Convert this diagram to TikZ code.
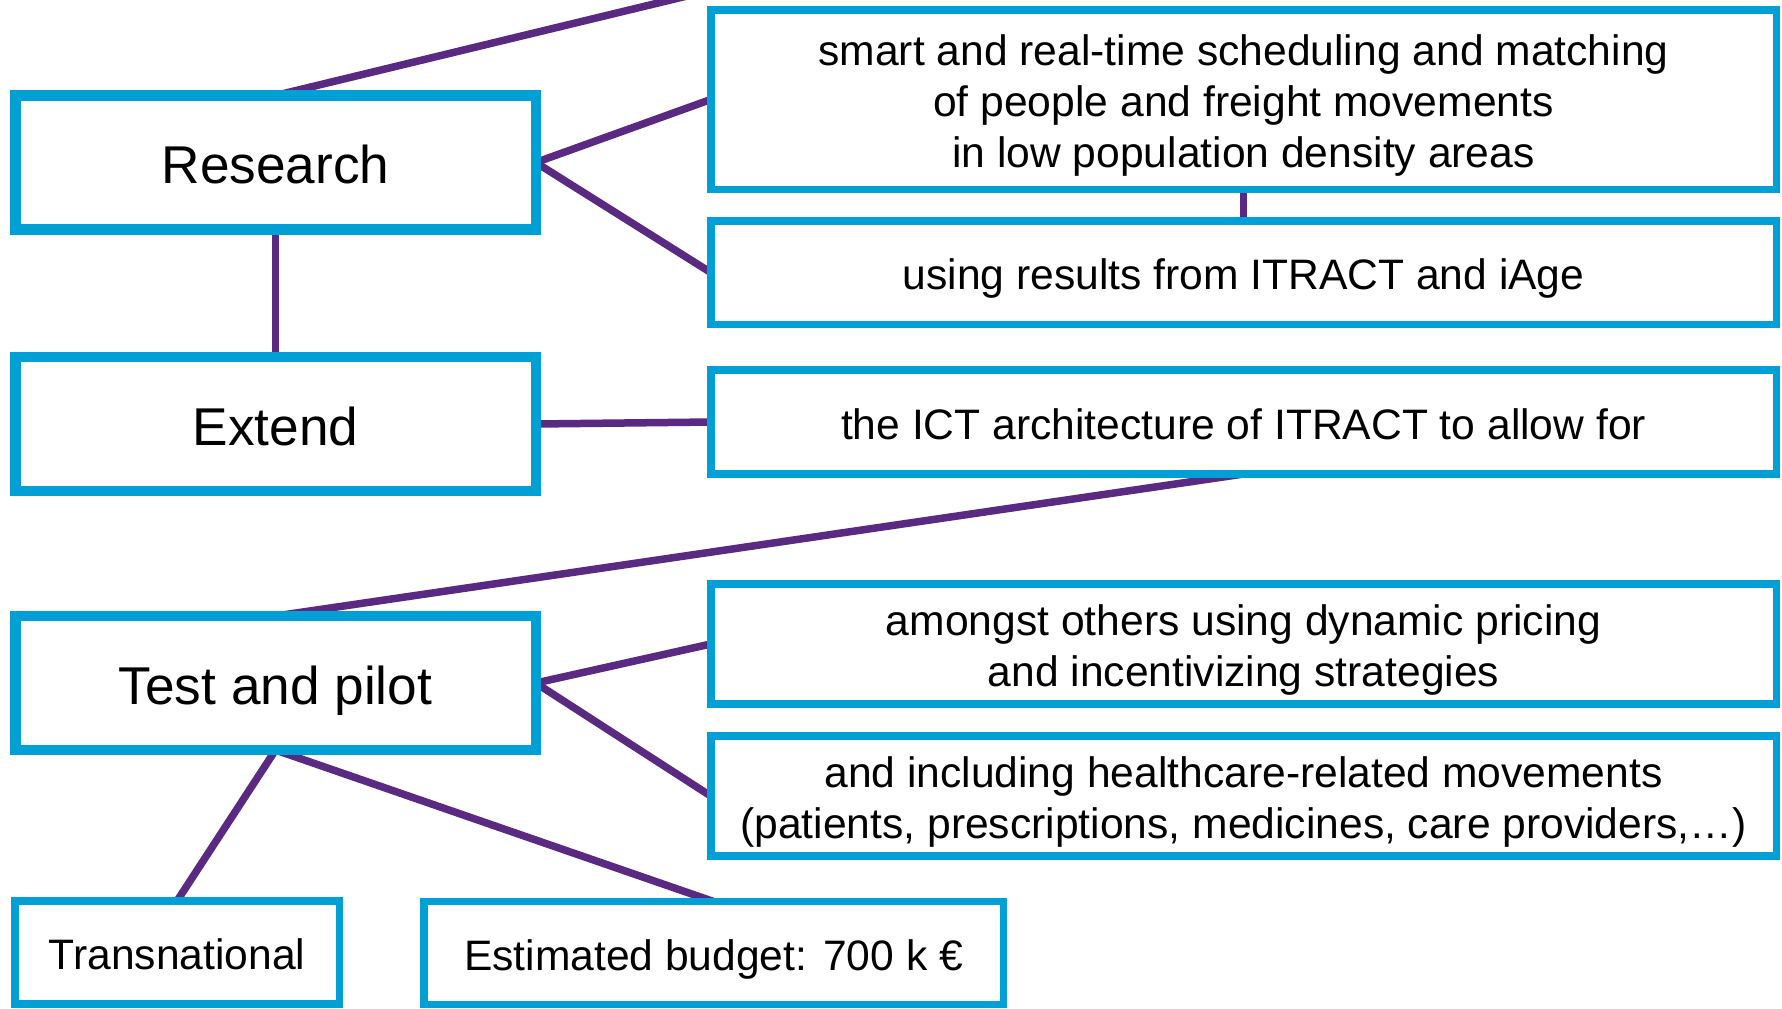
\documentclass[tikz,border=0pt]{standalone}
\usepackage{fontspec}
\setmainfont{Liberation Sans}
\usetikzlibrary{backgrounds}
\definecolor{boxblue}{RGB}{0,159,214}
\definecolor{linepurple}{RGB}{90,42,130}
\newcommand\lnstrut{\rule{0pt}{19.6pt}}
\tikzset{
  mainbox/.style={draw=boxblue, line width=5.25pt, fill=white, inner sep=0pt, outer sep=0pt,
    minimum width=260.25pt, minimum height=67pt, align=center,
    text height=24.5pt, text depth=3.2pt,
    font=\fontsize{26.6}{31}\selectfont},
  infobox/.style={draw=boxblue, line width=3.75pt, fill=white, inner sep=0pt, outer sep=0pt,
    minimum width=532.75pt, align=center, text depth=2.56pt,
    font=\fontsize{21.3}{25.6}\selectfont},
  smallbox/.style={draw=boxblue, line width=3.75pt, fill=white, inner sep=0pt, outer sep=0pt,
    minimum height=51.5pt, align=center, text depth=2.56pt,
    font=\fontsize{21.3}{25.6}\selectfont},
  link/.style={draw=linepurple, line width=3.75pt}
}
\begin{document}
\begin{tikzpicture}[x=0.5pt,y=-0.5pt]
\useasboundingbox (0,0) rectangle (1782,1008);
\begin{scope}[on background layer]
\fill[white] (0,0) rectangle (1782,1008);
\end{scope}

% left main boxes
\node[mainbox] (research) at (275.5,162.5) {Research};
\node[mainbox] (extend) at (275.5,424) {Extend};
\node[mainbox] (test) at (275.5,683) {Test and pilot};

% right info boxes
\node[infobox, minimum height=89.75pt] (smart) at (1243.5,99.5)
  {\lnstrut smart and real-time scheduling and matching\\of people and freight movements\\in low population density areas};
\node[infobox, minimum height=51.75pt] (using) at (1243.5,272.5)
  {\lnstrut using results from ITRACT and iAge};
\node[infobox, minimum height=52pt] (ict) at (1243.5,422)
  {\lnstrut the ICT architecture of ITRACT to allow for};
\node[infobox, minimum height=60pt] (pricing) at (1243.5,644)
  {\lnstrut amongst others using dynamic pricing\\and incentivizing strategies};
\node[infobox, minimum height=60pt] (health) at (1243.5,796)
  {\lnstrut and including healthcare-related movements\\(patients, prescriptions, medicines, care providers,…)};

% bottom boxes
\node[smallbox, minimum width=162.25pt] (trans) at (177,952.5) {\lnstrut Transnational};
\node[smallbox, minimum width=289.75pt] (budget) at (713.5,953) {\lnstrut Estimated budget: 700 k €};

\coordinate (offtop) at (687,-4);

\begin{scope}[on background layer]
\draw[link] (research.north) -- (offtop);
\draw[link] (research.east) -- (smart.west);
\draw[link] (research.east) -- (using.west);
\draw[link] (smart.south) -- (using.north);
\draw[link] (research.south) -- (extend.north);
\draw[link] (extend.east) -- (ict.west);
\draw[link] (ict.south) -- (test.north);
\draw[link] (test.east) -- (pricing.west);
\draw[link] (test.east) -- (health.west);
\draw[link] (test.south) -- (trans.north);
\draw[link] (test.south) -- (budget.north);
\end{scope}
\end{tikzpicture}
\end{document}
